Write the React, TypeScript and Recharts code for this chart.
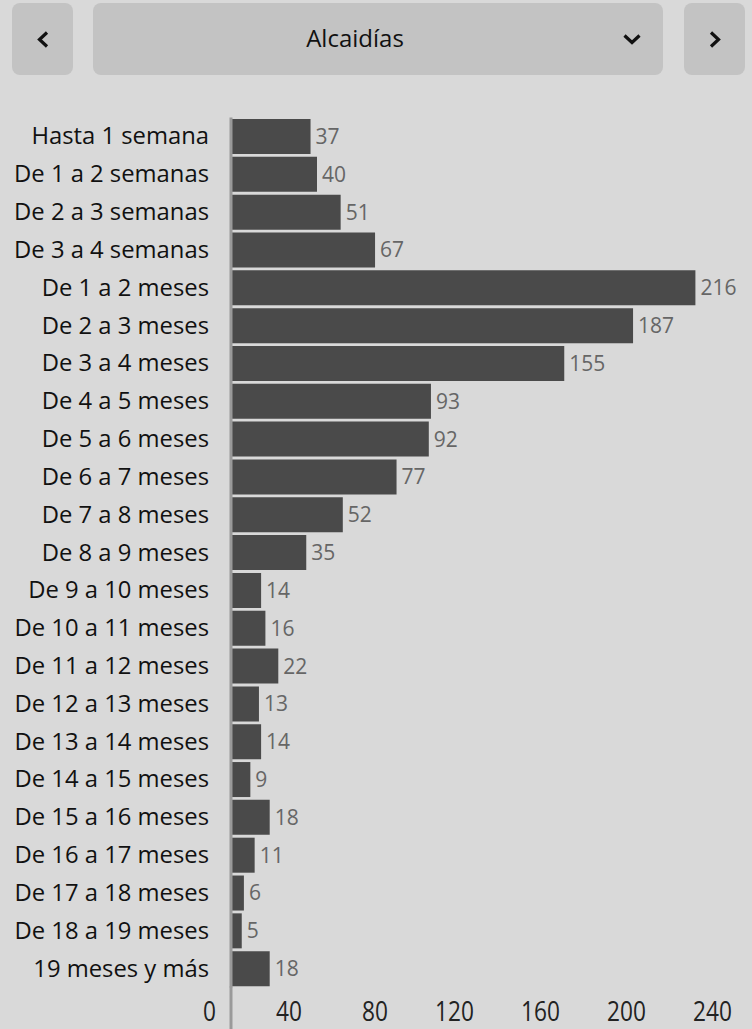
import React from 'react';
import { BarChart, Bar, XAxis, YAxis, LabelList } from 'recharts';

const CATEGORIES = [
  'Hasta 1 semana',
  'De 1 a 2 semanas',
  'De 2 a 3 semanas',
  'De 3 a 4 semanas',
  'De 1 a 2 meses',
  'De 2 a 3 meses',
  'De 3 a 4 meses',
  'De 4 a 5 meses',
  'De 5 a 6 meses',
  'De 6 a 7 meses',
  'De 7 a 8 meses',
  'De 8 a 9 meses',
  'De 9 a 10 meses',
  'De 10 a 11 meses',
  'De 11 a 12 meses',
  'De 12 a 13 meses',
  'De 13 a 14 meses',
  'De 14 a 15 meses',
  'De 15 a 16 meses',
  'De 16 a 17 meses',
  'De 17 a 18 meses',
  'De 18 a 19 meses',
  '19 meses y más',
];

const VALUES = [37, 40, 51, 67, 216, 187, 155, 93, 92, 77, 52, 35, 14, 16, 22, 13, 14, 9, 18, 11, 6, 5, 18];

const X_TICKS = [0, 40, 80, 120, 160, 200, 240];

const TITLE = 'Alcaidías';

const rows = CATEGORIES.map((label, i) => ({ label, value: VALUES[i] }));

const BG = '#d9d9d9';
const BTN = '#c3c3c3';
const AXIS = '#9a9a9a';
const FONT = "'Open Sans', sans-serif";

function YTick({ x, y, payload }: any) {
  return (
    <text x={x - 14} y={y} dy={8} textAnchor="end" fill="#111" fontSize={23.8} fontFamily={FONT}>
      {payload.value}
    </text>
  );
}

// bottom tick labels are tall and narrow, so squeeze them horizontally
function XTick({ x, y, payload }: any) {
  return (
    <g>
      {payload.value === 0 && <line x1={x} x2={x} y1={y - 9} y2={y + 40} stroke={AXIS} strokeWidth={3} />}
      <g transform={`translate(${x - 15},${y + 25.5}) scale(0.84,1)`}>
        <text x={0} y={0} textAnchor="end" fill="#222" fontSize={27} fontFamily={FONT}>
          {payload.value}
        </text>
      </g>
    </g>
  );
}

function Chevron({ dir }: { dir: 'left' | 'right' | 'down' }) {
  const pts =
    dir === 'left' ? '10,1.5 2.5,8.5 10,15.5' : dir === 'right' ? '2,1.5 9.5,8.5 2,15.5' : '1.5,1.5 9,8.5 16.5,1.5';
  const w = dir === 'down' ? 18 : 12;
  const h = dir === 'down' ? 11 : 17;
  return (
    <svg width={w} height={h} style={{ display: 'block' }}>
      <polyline points={pts} fill="none" stroke="#111" strokeWidth={3.2} />
    </svg>
  );
}

const btn: React.CSSProperties = {
  position: 'absolute',
  top: 3,
  height: 72,
  background: BTN,
  borderRadius: 8,
};

export default function App() {
  return (
    <div style={{ position: 'relative', width: 752, height: 1029, background: BG, overflow: 'hidden' }}>
      <style>{'body{margin:0}'}</style>
      <div style={{ position: 'absolute', left: 0, top: 0 }}>
        <BarChart
          width={752}
          height={1029}
          data={rows}
          layout="vertical"
          margin={{ top: 117.5, right: 5, bottom: 0, left: 0 }}
          barCategoryGap={1.5}
        >
          <XAxis
            type="number"
            domain={[0, 240]}
            ticks={X_TICKS}
            axisLine={false}
            tickLine={false}
            height={41.5}
            tick={<XTick />}
            interval={0}
          />
          <YAxis
            type="category"
            dataKey="label"
            width={231}
            axisLine={{ stroke: AXIS, strokeWidth: 3 }}
            tickLine={false}
            tick={<YTick />}
            interval={0}
          />
          <Bar dataKey="value" fill="#4a4a4a" isAnimationActive={false}>
            <LabelList dataKey="value" position="right" offset={5} fill="#666" fontSize={21} fontFamily={FONT} />
          </Bar>
        </BarChart>
      </div>
      <div style={{ ...btn, left: 12, width: 61 }}>
        <div style={{ position: 'absolute', left: 25, top: 28 }}>
          <Chevron dir="left" />
        </div>
      </div>
      <div style={{ ...btn, left: 93, width: 570 }}>
        <div
          style={{
            position: 'absolute',
            left: 0,
            width: 524,
            top: 18,
            textAlign: 'center',
            fontFamily: FONT,
            fontSize: 24,
            color: '#111',
          }}
        >
          {TITLE}
        </div>
        <div style={{ position: 'absolute', left: 530, top: 31 }}>
          <Chevron dir="down" />
        </div>
      </div>
      <div style={{ ...btn, left: 684, width: 61 }}>
        <div style={{ position: 'absolute', left: 25, top: 28 }}>
          <Chevron dir="right" />
        </div>
      </div>
    </div>
  );
}
